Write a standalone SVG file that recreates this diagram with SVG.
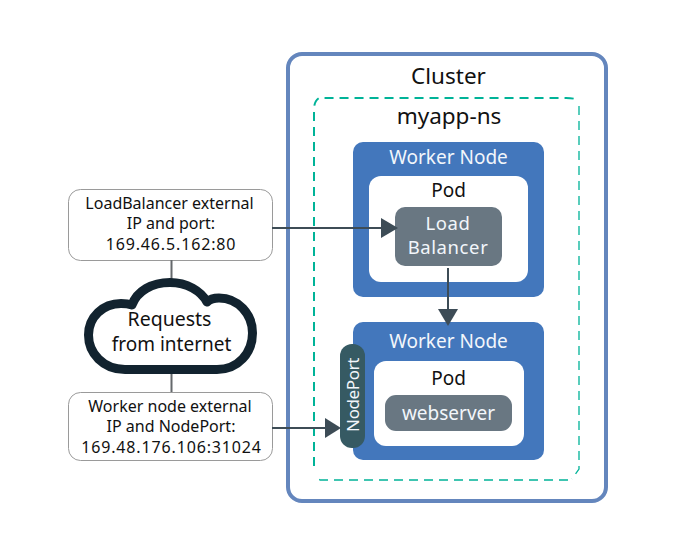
<svg xmlns="http://www.w3.org/2000/svg" width="678" height="555" viewBox="0 0 678 555">
<defs>
<style>
text{font-family:"Noto Sans","Open Sans","Liberation Sans",sans-serif;text-anchor:middle}
.d{fill:#111}.w{fill:#f2f6fb}
.s{font-size:16px}.n{font-size:16px;letter-spacing:.85px}.m{font-size:19px}.l{font-size:22.500px}
.wn{fill:#4377bc}.pod{fill:#fff}.g{fill:#697782}
.box{fill:#fff;stroke:#9a9a9a;stroke-width:1}
.c{stroke:#3d4c56;stroke-width:2;fill:none}
.h{fill:#3d4c56}
.t{stroke:#65696c;stroke-width:2;fill:none}
</style>
</defs>
<rect width="678" height="555" fill="#fff"/>
<g id="cluster">
<rect x="288" y="54" width="318" height="447" rx="14" fill="#fff" stroke="#6486bd" stroke-width="4"/>
<text class="l d" x="448.500" y="84">Cluster</text>
</g>
<g id="namespace">
<path d="M314 466V110Q314 101 319 98H566Q576 98 579 101" fill="none" stroke="#00b398" stroke-width="2" stroke-dasharray="9 6"/>
<path d="M579 106V469L572 479M568 480H320L319 479" fill="none" stroke="#00b398" stroke-width="1.300" stroke-dasharray="9 6"/>
<text class="l d" x="449" y="124">myapp-ns</text>
</g>
<g id="worker1">
<rect class="wn" x="353" y="142" width="191" height="155" rx="10"/>
<text class="m w" x="448.500" y="164">Worker Node</text>
<rect class="pod" x="369" y="176" width="159" height="106" rx="12"/>
<text class="m d" x="448.500" y="197">Pod</text>
</g>
<g id="loadbalancer">
<rect class="g" x="395" y="207" width="107" height="59" rx="10"/>
<text class="m w" style="font-size:18.500px;letter-spacing:.6px" x="448" y="230">Load</text>
<text class="m w" style="font-size:18.500px;letter-spacing:.6px" x="448" y="253.500">Balancer</text>
</g>
<g id="worker2">
<rect class="wn" x="353" y="322" width="191" height="138" rx="10"/>
<text class="m w" x="448.500" y="348">Worker Node</text>
<rect class="pod" x="374" y="361" width="150" height="85" rx="12"/>
<text class="m d" x="448.500" y="385">Pod</text>
</g>
<g id="webserver">
<rect class="g" x="385" y="395" width="127" height="36" rx="11"/>
<text class="m w" x="448.500" y="420">webserver</text>
</g>
<g id="nodeport">
<rect x="340" y="344" width="25" height="104" rx="12" fill="#365a63"/>
<text class="m w" style="font-size:17px;letter-spacing:-.4px" transform="translate(359 395) rotate(-90)">NodePort</text>
</g>
<g id="lb-ip">
<rect class="box" x="68.500" y="189.500" width="204" height="71" rx="12"/>
<text class="s d" x="169.500" y="209">LoadBalancer external</text>
<text class="s d" x="171" y="229">IP and port:</text>
<text class="n d" x="171" y="250">169.46.5.162:80</text>
</g>
<g id="node-ip">
<rect class="box" x="68.500" y="392.500" width="204" height="68" rx="12"/>
<text class="s d" x="170" y="412">Worker node external</text>
<text class="s d" x="171" y="432">IP and NodePort:</text>
<text class="n d" x="171.500" y="453">169.48.176.106:31024</text>
</g>
<g id="connectors">
<path class="t" d="M171.500 260V280M171.500 372V392"/>
<path class="c" d="M272 228H384"/><path class="h" d="M381 218L398 228L381 238Z"/>
<path class="c" d="M272 428H328"/><path class="h" d="M325 418L341 428L325 438Z"/>
<path class="c" d="M448 268V312"/><path class="h" d="M438 309H458L448 326Z"/>
</g>
<g id="cloud">
<path d="M125 369.500C103 369.500 88.500 353 88.500 335C88.500 317 103 303.500 121 303.500C125 303.500 129 304 132 305C137 291 152 282.500 170 282.500C187 282.500 201 291 207 302C210 299 214 298 219 298C238 298 252.500 314 252.500 333C252.500 353 238 369.500 217 369.500Z" fill="#fff" stroke="#12232f" stroke-width="9" stroke-linejoin="round"/>
<text class="m d" style="font-size:19.500px" x="169.500" y="326">Requests</text>
<text class="m d" x="171.500" y="351">from internet</text>
</g>
</svg>
